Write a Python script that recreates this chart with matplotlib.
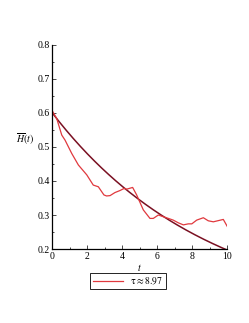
import numpy as np
import matplotlib.pyplot as plt
from matplotlib.ticker import MultipleLocator

plt.rcParams['font.family'] = ['Liberation Serif', 'DejaVu Serif']
plt.rcParams['mathtext.fontset'] = 'stix'

t_data = [0.0, 0.25, 0.54, 0.73, 1.11, 1.49, 1.97, 2.34, 2.63, 2.95, 3.1, 3.3,
          3.58, 3.87, 4.1, 4.25, 4.59, 4.82, 5.2, 5.58, 5.77, 6.06, 6.34, 6.63,
          6.91, 7.2, 7.49, 7.77, 7.97, 8.25, 8.63, 8.91, 9.2, 9.77, 10.0]
h_data = [0.606, 0.584, 0.535, 0.52, 0.481, 0.447, 0.418, 0.388, 0.383, 0.359, 0.356, 0.357,
          0.366, 0.372, 0.378, 0.376, 0.381, 0.359, 0.315, 0.290, 0.290, 0.300, 0.295, 0.290,
          0.285, 0.277, 0.271, 0.274, 0.274, 0.285, 0.292, 0.283, 0.280, 0.287, 0.266]

# ajustement exponentiel
h0 = 0.6
tau = 8.97
t_fit = np.linspace(0, 10, 200)
h_fit = h0 * np.exp(-t_fit / tau)

fig = plt.figure(figsize=(2.49, 3.23), dpi=100)
ax = fig.add_axes([0.21, 0.229, 0.703, 0.632])

ax.plot(t_fit, h_fit, color='#7a1022', lw=1.1)
ax.plot(t_data, h_data, color='#e0393e', lw=0.9, label=r'$\mathrm{\tau} \approx 8.97$')

ax.set_xlim(0, 10)
ax.set_ylim(0.2, 0.8)
ax.xaxis.set_major_locator(MultipleLocator(2))
ax.xaxis.set_minor_locator(MultipleLocator(1))
ax.yaxis.set_major_locator(MultipleLocator(0.1))
ax.yaxis.set_minor_locator(MultipleLocator(0.05))
ax.spines['top'].set_visible(False)
ax.spines['right'].set_visible(False)
for s in ['left', 'bottom']:
    ax.spines[s].set_linewidth(0.9)
ax.tick_params(which='both', direction='in', labelsize=7, width=0.5, pad=2)
ax.tick_params(which='major', length=3)
ax.tick_params(which='minor', length=1.5)
ax.yaxis.set_major_formatter(plt.FuncFormatter(lambda v, p: '%.1f' % v))

ax.set_xlabel(r'$t$', fontsize=7, labelpad=1)
ax.set_ylabel(r'$\overline{H}(t)$', fontsize=7, rotation=0, labelpad=2)
ax.yaxis.set_label_coords(-0.155, 0.5)

leg = fig.legend(loc='center', bbox_to_anchor=(0.515, 0.13), fontsize=7,
                 fancybox=False, edgecolor='black', framealpha=1,
                 handlelength=3, borderpad=0.3)
leg.get_frame().set_linewidth(0.6)

plt.savefig('out.png', dpi=100)
